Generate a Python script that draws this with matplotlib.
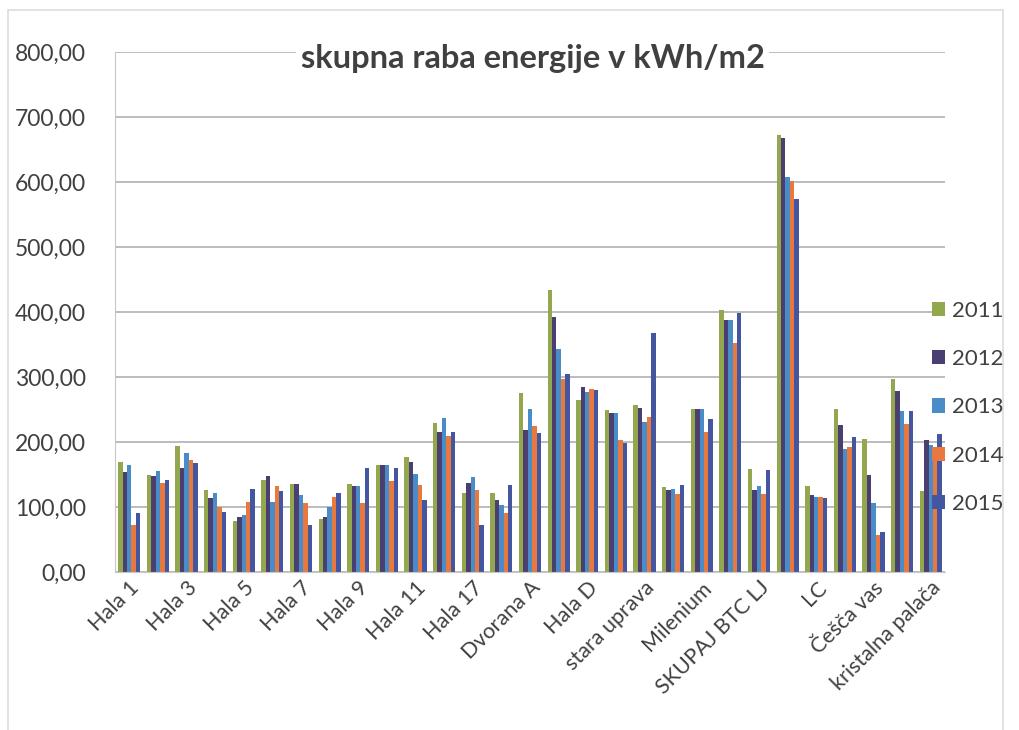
import matplotlib
matplotlib.use("Agg")
import matplotlib.pyplot as plt
from matplotlib.patches import Rectangle
from matplotlib.ticker import FuncFormatter, MultipleLocator
import numpy as np

# categories (only every other one is labelled on the axis)
categories = ['Hala 1', '', 'Hala 3', '', 'Hala 5', '', 'Hala 7', '', 'Hala 9', '',
              'Hala 11', '', 'Hala 17', '', 'Dvorana A', '', 'Hala D', '', 'stara uprava', '',
              'Milenium', '', 'SKUPAJ BTC LJ', '', 'LC', '', 'Češča vas', '', 'kristalna palača']
years = ['2011', '2012', '2013', '2014', '2015']

v2011 = [169, 150, 194, 126, 78, 141, 135, 81, 135, 165, 177, 229, 121, 121, 275,
         434, 265, 249, 257, 131, 251, 403, 159, 672, 132, 251, 204, 297, 125]
v2012 = [154, 147, 160, 114, 85, 148, 135, 85, 133, 165, 169, 215, 137, 111, 218,
         392, 285, 245, 252, 126, 251, 388, 126, 668, 118, 226, 149, 278, 203]
v2013 = [164, 155, 183, 121, 88, 108, 118, 100, 133, 165, 151, 237, 146, 103, 251,
         343, 277, 244, 231, 128, 251, 387, 132, 608, 116, 189, 106, 247, 195]
v2014 = [72, 137, 173, 100, 108, 133, 106, 116, 106, 140, 134, 210, 126, 91, 225,
         297, 281, 203, 239, 120, 216, 352, 120, 602, 115, 193, 57, 228, 188]
v2015 = [91, 142, 168, 92, 127, 125, 72, 121, 160, 160, 111, 215, 72, 134, 214,
         305, 280, 198, 368, 134, 235, 398, 157, 574, 114, 208, 62, 247, 213]

colors = ['#93A84E', '#4B3F72', '#4A8CC8', '#E8793E', '#4456A0']

plt.rcParams['font.family'] = ['Lato', 'DejaVu Sans']

fig = plt.figure(figsize=(10.2, 7.3), dpi=100)
ax = fig.add_axes([0.1127, 0.2164, 0.8138, 0.7124])

x = np.arange(len(categories))
w = 0.155
series = [v2011, v2012, v2013, v2014, v2015]
for i, (vals, c, yr) in enumerate(zip(series, colors, years)):
    ax.bar(x + (i - 2) * w, vals, width=w, color=c, label=yr, zorder=2)

ax.set_xlim(-0.5, len(categories) - 0.5)
ax.set_ylim(0, 800)
ax.yaxis.set_major_locator(MultipleLocator(100))
ax.yaxis.set_major_formatter(FuncFormatter(lambda v, p: f'{v:.2f}'.replace('.', ',')))
ax.grid(axis='y', color='#B0B0B0', linewidth=1.2, zorder=0)
ax.set_axisbelow(True)

for s in ['top', 'right']:
    ax.spines[s].set_visible(False)
ax.spines['left'].set_color('#C8C8C8')
ax.spines['bottom'].set_color('#C8C8C8')

ax.set_xticks(x)
ax.set_xticklabels(categories, rotation=45, ha='right', rotation_mode='anchor',
                   fontsize=15.5, color='#404040')
ax.tick_params(axis='both', length=0)
ax.tick_params(axis='y', labelsize=16.5, labelcolor='#404040', pad=21)
ax.tick_params(axis='x', pad=4)

fig.text(0.522, 0.92, 'skupna raba energije v kWh/m2', ha='center', va='center',
         fontsize=23.5, fontweight='bold', color='#404040',
         bbox=dict(facecolor='white', edgecolor='none', pad=3))

leg = fig.legend(loc='upper left', bbox_to_anchor=(0.905, 0.6), frameon=False,
                 fontsize=16, labelspacing=1.27, handlelength=0.6, handleheight=0.6,
                 handletextpad=0.3, borderaxespad=0)
for t in leg.get_texts():
    t.set_color('#404040')

# scanned page border
fig.patches.append(Rectangle((0.008, -0.01), 0.975, 0.996, transform=fig.transFigure,
                             fill=False, edgecolor='#DDDDDD', linewidth=1.2))

fig.savefig('out.png', dpi=100)
